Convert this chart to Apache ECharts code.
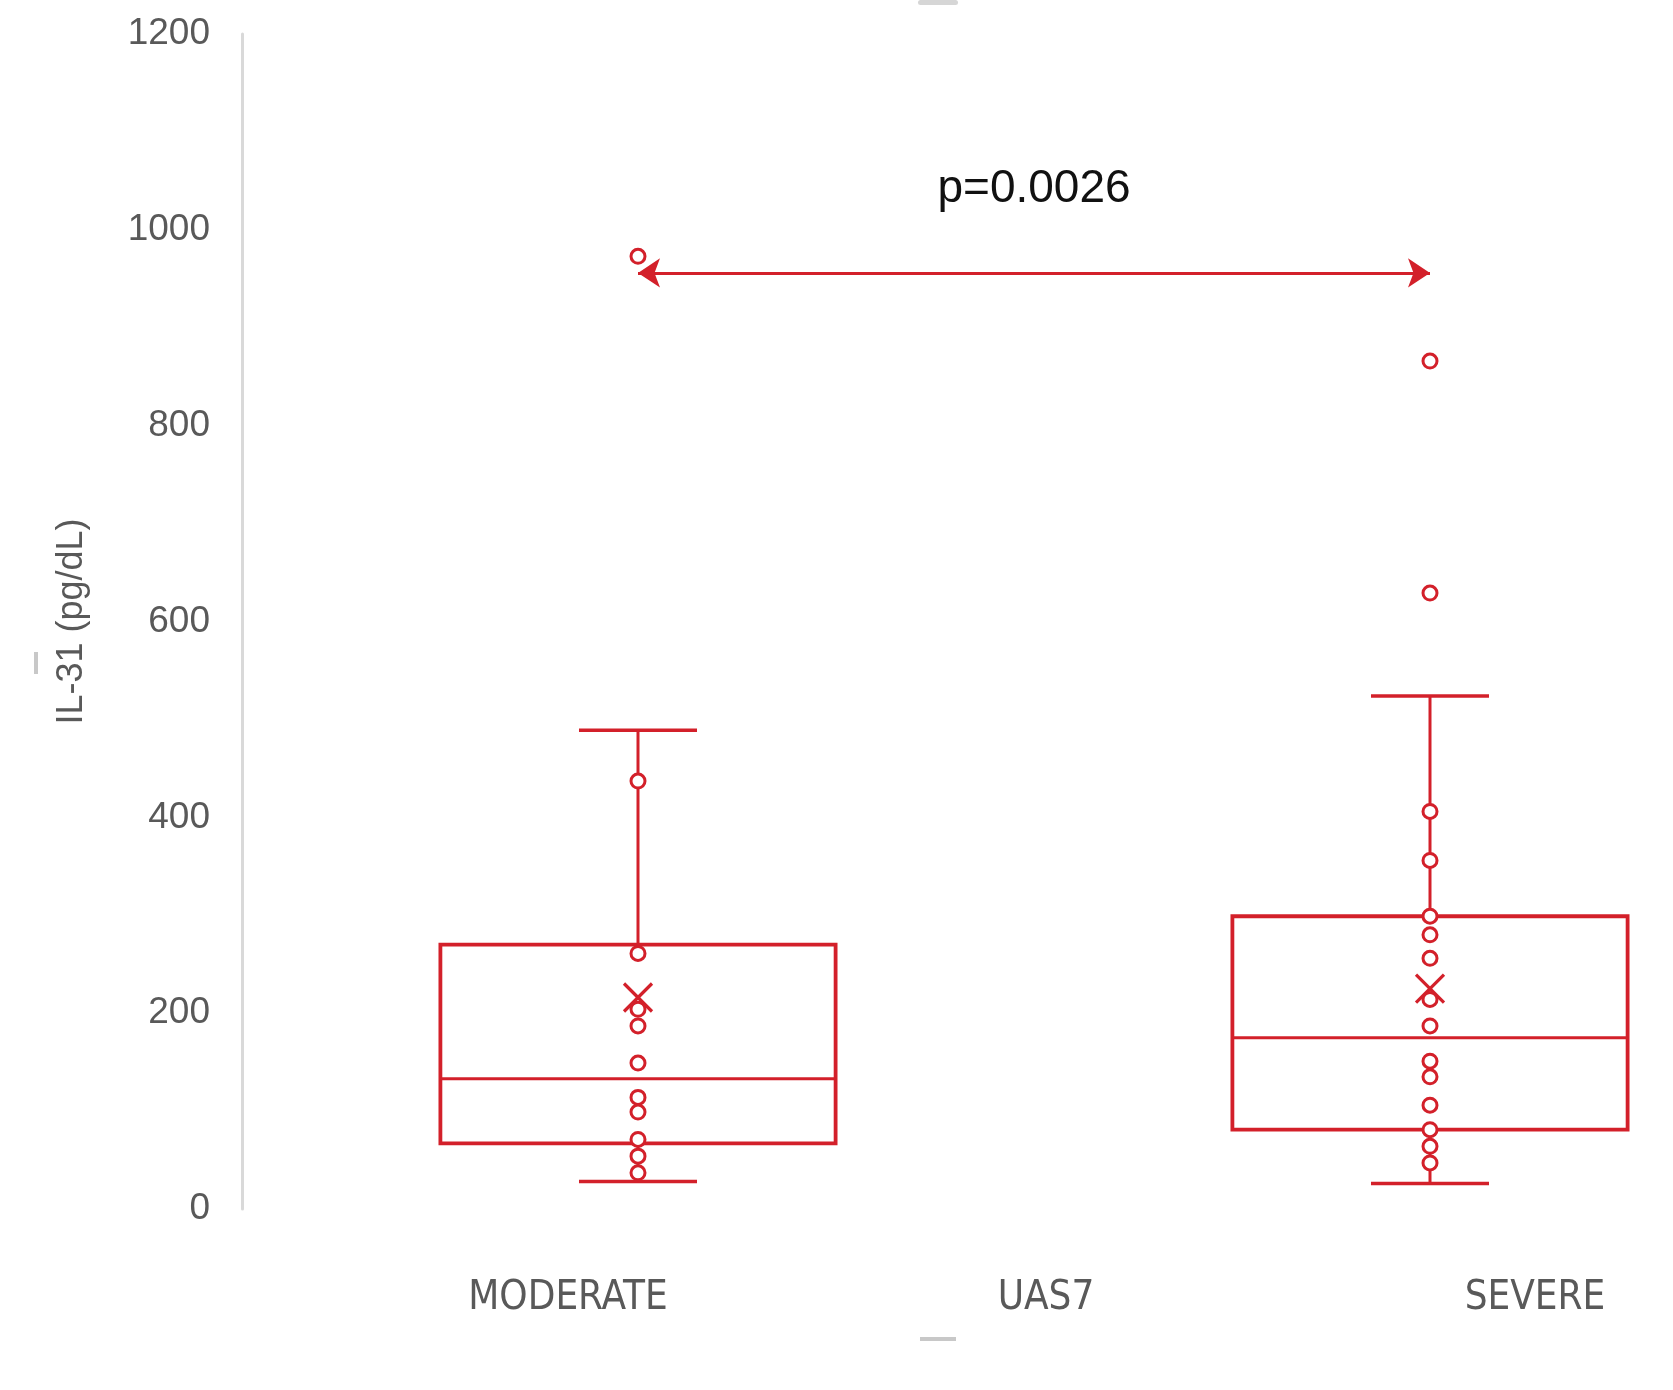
<!DOCTYPE html>
<html>
<head>
<meta charset="utf-8">
<style>
  html, body { margin: 0; padding: 0; background: #ffffff; }
  #chart { width: 1673px; height: 1390px; }
</style>
<script src="https://cdn.jsdelivr.net/npm/echarts@6.0.0/dist/echarts.min.js"></script>
</head>
<body>
<div id="chart"></div>
<script>
// ---- data ----
const categories = ['MODERATE', 'SEVERE'];
const axisTitleX = 'UAS7';
const axisTitleY = 'IL-31 (pg/dL)';
// [lower whisker, Q1, median, Q3, upper whisker]
const moderateBox = [28, 67, 133, 270, 489];
const severeBox = [26, 81, 175, 299, 524];
const moderateMean = 216;
const severeMean = 225;
const moderatePoints = [973, 437, 261, 204, 187, 149, 114, 99, 71, 54, 37];
const severePoints = [866, 629, 406, 356, 299, 280, 256, 214, 187, 151, 135, 106, 81, 64, 47];
const yMin = 0, yMax = 1200, yStep = 200;
const pValueText = 'p=0.0026';
const comparisonLevel = 956;

// ---- styling ----
const RED = '#d3202a';
const GREY_TEXT = '#595959';

const boxData = [
  [0].concat(moderateBox, [moderateMean]),
  [1].concat(severeBox, [severeMean])
];

function renderBox(params, api) {
  const x = api.value(0);
  const pLo = api.coord([x, api.value(1)]);
  const pQ1 = api.coord([x, api.value(2)]);
  const pMed = api.coord([x, api.value(3)]);
  const pQ3 = api.coord([x, api.value(4)]);
  const pHi = api.coord([x, api.value(5)]);
  const pMean = api.coord([x, api.value(6)]);
  const band = api.size([1, 0])[0];
  const bw = band * 0.499;
  const cw = band * 0.149;
  const cx = pLo[0];
  const line = (x1, y1, x2, y2, w) => ({
    type: 'line',
    shape: { x1, y1, x2, y2 },
    style: { stroke: RED, lineWidth: w, fill: null }
  });
  const m = 14;
  return {
    type: 'group',
    children: [
      line(cx, pQ3[1], cx, pHi[1], 3),
      line(cx, pQ1[1], cx, pLo[1], 3),
      line(cx - cw / 2, pHi[1], cx + cw / 2, pHi[1], 3.5),
      line(cx - cw / 2, pLo[1], cx + cw / 2, pLo[1], 3.5),
      {
        type: 'rect',
        shape: { x: cx - bw / 2, y: pQ3[1], width: bw, height: pQ1[1] - pQ3[1] },
        style: { stroke: RED, lineWidth: 3.8, fill: null }
      },
      line(cx - bw / 2, pMed[1], cx + bw / 2, pMed[1], 3),
      line(pMean[0] - m, pMean[1] - m, pMean[0] + m, pMean[1] + m, 3.2),
      line(pMean[0] - m, pMean[1] + m, pMean[0] + m, pMean[1] - m, 3.2)
    ]
  };
}

const catFont = 'Liberation Sans Narrow, DejaVu Sans Condensed, sans-serif';

const chart = echarts.init(document.getElementById('chart'), null, { renderer: 'canvas' });
chart.setOption({
  animation: false,
  backgroundColor: '#ffffff',
  grid: { left: 242, top: 34, width: 1584, height: 1175, containLabel: false, outerBoundsMode: 'none' },
  xAxis: {
    type: 'category',
    data: categories,
    axisLine: { show: false },
    axisTick: { show: false },
    splitLine: { show: false },
    axisLabel: {
      margin: 66,
      formatter: (v) => (v === categories[0] ? '{a|' + v + '}' : '{b|' + v + '}'),
      rich: {
        a: { fontFamily: catFont, fontSize: 40, color: GREY_TEXT, lineHeight: 48, padding: [0, 140, 0, 0] },
        b: { fontFamily: catFont, fontSize: 40, color: GREY_TEXT, lineHeight: 48, padding: [0, 0, 0, 210] }
      }
    },
    name: axisTitleX,
    nameLocation: 'middle',
    nameGap: 66,
    nameMoveOverlap: false,
    nameTextStyle: { fontFamily: catFont, fontSize: 40, color: GREY_TEXT, lineHeight: 48, verticalAlign: 'top', padding: [0, 0, 0, 24] }
  },
  yAxis: {
    type: 'value',
    min: yMin,
    max: yMax,
    interval: yStep,
    axisLine: { show: true, lineStyle: { color: '#d9d9d9', width: 3 } },
    axisTick: { show: false },
    splitLine: { show: false },
    axisLabel: {
      fontFamily: 'Liberation Sans, Arial, sans-serif', fontSize: 37, color: GREY_TEXT, margin: 32,
      padding: [7, 0, 0, 0],
      formatter: (v) => String(v)
    },
    name: axisTitleY,
    nameLocation: 'middle',
    nameGap: 152,
    nameMoveOverlap: false,
    nameTextStyle: { fontFamily: 'Liberation Sans, Arial, sans-serif', fontSize: 36, color: GREY_TEXT }
  },
  series: [
    {
      type: 'custom',
      renderItem: renderBox,
      data: boxData,
      encode: { x: 0, y: [1, 2, 3, 4, 5, 6] },
      z: 2,
      silent: true
    },
    {
      type: 'scatter',
      data: moderatePoints.map(v => [0, v]),
      symbol: 'circle',
      symbolSize: 14,
      itemStyle: { color: '#ffffff', borderColor: RED, borderWidth: 3, opacity: 1 },
      z: 3,
      silent: true,
      markLine: {
        silent: true,
        symbol: ['arrow', 'arrow'],
        symbolSize: [22, 22],
        lineStyle: { color: RED, width: 3, type: 'solid' },
        label: {
          show: true,
          position: 'middle',
          formatter: pValueText,
          color: '#111111',
          fontFamily: 'Liberation Sans, Arial, sans-serif',
          fontSize: 46,
          distance: 61
        },
        data: [[
          { coord: [0, comparisonLevel] },
          { coord: [1, comparisonLevel] }
        ]]
      }
    },
    {
      type: 'scatter',
      data: severePoints.map(v => [1, v]),
      symbol: 'circle',
      symbolSize: 14,
      itemStyle: { color: '#ffffff', borderColor: RED, borderWidth: 3, opacity: 1 },
      z: 3,
      silent: true
    }
  ],
  graphic: [
    { type: 'rect', shape: { x: 34, y: 652, width: 4, height: 22 }, style: { fill: '#c8c8c8' } },
    { type: 'rect', shape: { x: 920, y: 1337, width: 36, height: 4 }, style: { fill: '#c8c8c8' } },
    { type: 'rect', shape: { x: 918, y: 0, width: 40, height: 5, r: 3 }, style: { fill: '#d6d6d6' } }
  ]
});
</script>
</body>
</html>
